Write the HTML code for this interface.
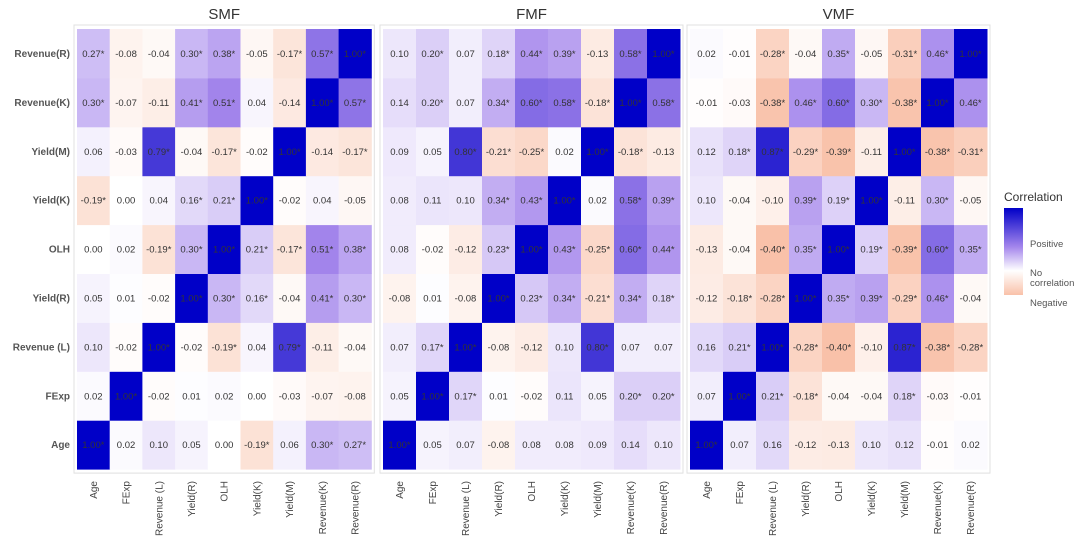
<!DOCTYPE html>
<html><head><meta charset="utf-8">
<style>
html,body{margin:0;padding:0;background:#fff;}
svg{display:block;font-family:"Liberation Sans",Arial,sans-serif;}
</style></head>
<body>
<svg id="chart" width="1080" height="548" viewBox="0 0 1080 548"></svg>
<script>
const variables = ["Age","FExp","Revenue (L)","Yield(R)","OLH","Yield(K)","Yield(M)","Revenue(K)","Revenue(R)"];
const panelTitles = ["SMF","FMF","VMF"];
const smfValues = [
 [1,0.02,0.10,0.05,0.00,-0.19,0.06,0.30,0.27],
 [0.02,1,-0.02,0.01,0.02,0.00,-0.03,-0.07,-0.08],
 [0.10,-0.02,1,-0.02,-0.19,0.04,0.79,-0.11,-0.04],
 [0.05,0.01,-0.02,1,0.30,0.16,-0.04,0.41,0.30],
 [0.00,0.02,-0.19,0.30,1,0.21,-0.17,0.51,0.38],
 [-0.19,0.00,0.04,0.16,0.21,1,-0.02,0.04,-0.05],
 [0.06,-0.03,0.79,-0.04,-0.17,-0.02,1,-0.14,-0.17],
 [0.30,-0.07,-0.11,0.41,0.51,0.04,-0.14,1,0.57],
 [0.27,-0.08,-0.04,0.30,0.38,-0.05,-0.17,0.57,1]];
const smfStars = ["*....*.**",".*.......","..*.*.*..","...***.**","..*******","*..***...","..*.*.*.*","*..**..**","*..**.***"];
const fmfValues = [
 [1,0.05,0.07,-0.08,0.08,0.08,0.09,0.14,0.10],
 [0.05,1,0.17,0.01,-0.02,0.11,0.05,0.20,0.20],
 [0.07,0.17,1,-0.08,-0.12,0.10,0.80,0.07,0.07],
 [-0.08,0.01,-0.08,1,0.23,0.34,-0.21,0.34,0.18],
 [0.08,-0.02,-0.12,0.23,1,0.43,-0.25,0.60,0.44],
 [0.08,0.11,0.10,0.34,0.43,1,0.02,0.58,0.39],
 [0.09,0.05,0.80,-0.21,-0.25,0.02,1,-0.18,-0.13],
 [0.14,0.20,0.07,0.34,0.60,0.58,-0.18,1,0.58],
 [0.10,0.20,0.07,0.18,0.44,0.39,-0.13,0.58,1]];
const fmfStars = ["*........",".**....**",".**...*..","...******","...******","...***.**","..***.**.",".*.******",".*.***.**"];
const vmfValues = [
 [1,0.07,0.16,-0.12,-0.13,0.10,0.12,-0.01,0.02],
 [0.07,1,0.21,-0.18,-0.04,-0.04,0.18,-0.03,-0.01],
 [0.16,0.21,1,-0.28,-0.40,-0.10,0.87,-0.38,-0.28],
 [-0.12,-0.18,-0.28,1,0.35,0.39,-0.29,0.46,-0.04],
 [-0.13,-0.04,-0.40,0.35,1,0.19,-0.39,0.60,0.35],
 [0.10,-0.04,-0.10,0.39,0.19,1,-0.11,0.30,-0.05],
 [0.12,0.18,0.87,-0.29,-0.39,-0.11,1,-0.38,-0.31],
 [-0.01,-0.03,-0.38,0.46,0.60,0.30,-0.38,1,0.46],
 [0.02,-0.01,-0.28,-0.04,0.35,-0.05,-0.31,0.46,1]];
const vmfStars = ["*........",".***..*..",".****.***",".*******.","..*******","...***.*.",".****.***","..*******","..*.*.***"];

const panelsValues=[smfValues,fmfValues,vmfValues];
const panelsStars=[smfStars,fmfStars,vmfStars];
const svg=document.getElementById('chart');
const NS="http://www.w3.org/2000/svg";
function mk(tag,attrs){const e=document.createElementNS(NS,tag);for(const k in attrs)e.setAttribute(k,attrs[k]);return e;}
function lerp(a,b,t){return Math.round(a+(b-a)*t);}
function color(v){
  if(v>=0){
    if(v<=0.5){const t=v/0.5;return `rgb(${lerp(255,165,t)},${lerp(255,135,t)},${lerp(255,236,t)})`;}
    const t=(v-0.5)/0.5;return `rgb(${lerp(165,0,t)},${lerp(135,0,t)},${lerp(236,200,t)})`;
  }
  const t=Math.min(1,-v);return `rgb(${lerp(255,240,t)},${lerp(255,100,t)},${lerp(255,40,t)})`;
}
const panelX=[77,383,690], cellW=[32.7,33,33];
const gridTop=29, cellH=48.9, n=variables.length;
function xPos(p,j){return panelX[p]+j*cellW[p];}
function yPos(i){return gridTop+(n-1-i)*cellH;}

panelTitles.forEach((title,p)=>{
  const g=mk('g',{});
  
  
  svg.appendChild(g);
  const x0=panelX[p], w=cellW[p]*n;
  const frame=mk('rect',{x:x0-3,y:gridTop-4,width:w+6,height:cellH*n+8,fill:'#fff',stroke:'#e0e0e0','stroke-width':1});
  
  
  g.appendChild(frame);
  const t=mk('text',{x:x0+w/2,y:19,'text-anchor':'middle','font-size':15,fill:'#333'});
  t.textContent=title;
  
  
  g.appendChild(t);
  const vals=panelsValues[p], stars=panelsStars[p];
  for(let i=0;i<n;i++){for(let j=0;j<n;j++){
    const v=vals[i][j];
    const r=mk('rect',{x:xPos(p,j),y:yPos(i),width:cellW[p]+0.5,height:cellH+0.5,fill:color(v)});
    
    
    g.appendChild(r);
    const tx=mk('text',{x:xPos(p,j)+cellW[p]/2,y:yPos(i)+cellH/2+3.5,'text-anchor':'middle','font-size':9.5,fill:'#333'});
    tx.textContent=v.toFixed(2)+(stars[i][j]==='*'?'*':'');
    
    
    g.appendChild(tx);
  }}
  variables.forEach((name,j)=>{
    const cx=xPos(p,j)+cellW[p]/2+3.5;
    const lt=mk('text',{x:cx,y:481,'text-anchor':'end','font-size':10,fill:'#444',transform:`rotate(-90 ${cx} 481)`});
    lt.textContent=name;
    
    
    g.appendChild(lt);
  });
  if(p===0){
    variables.forEach((name,i)=>{
      const yt=mk('text',{x:70,y:yPos(i)+cellH/2+3.5,'text-anchor':'end','font-size':10,'font-weight':'bold',fill:'#555'});
      yt.textContent=name;
      
      
      g.appendChild(yt);
    });
  }
});

const lg=mk('g',{});


svg.appendChild(lg);
const defs=mk('defs',{});
const grad=mk('linearGradient',{id:'lgrad',x1:0,y1:0,x2:0,y2:1});
[[0,color(1)],[0.45,color(0.5)],[0.72,color(0)],[1,color(-0.4)]].forEach(s=>{grad.appendChild(mk('stop',{offset:s[0],'stop-color':s[1]}));});
defs.appendChild(grad);svg.appendChild(defs);
const lt=mk('text',{x:1004,y:201,'font-size':12,fill:'#333'});lt.textContent='Correlation';


lg.appendChild(lt);
const bar=mk('rect',{x:1004,y:208,width:19,height:87,fill:'url(#lgrad)'});


lg.appendChild(bar);
[['Positive',247],['No',276],['correlation',286],['Negative',306]].forEach(l=>{
  const e=mk('text',{x:1030,y:l[1],'font-size':9.5,fill:'#555'});e.textContent=l[0];
  
  
  lg.appendChild(e);
});
</script>
</body></html>
